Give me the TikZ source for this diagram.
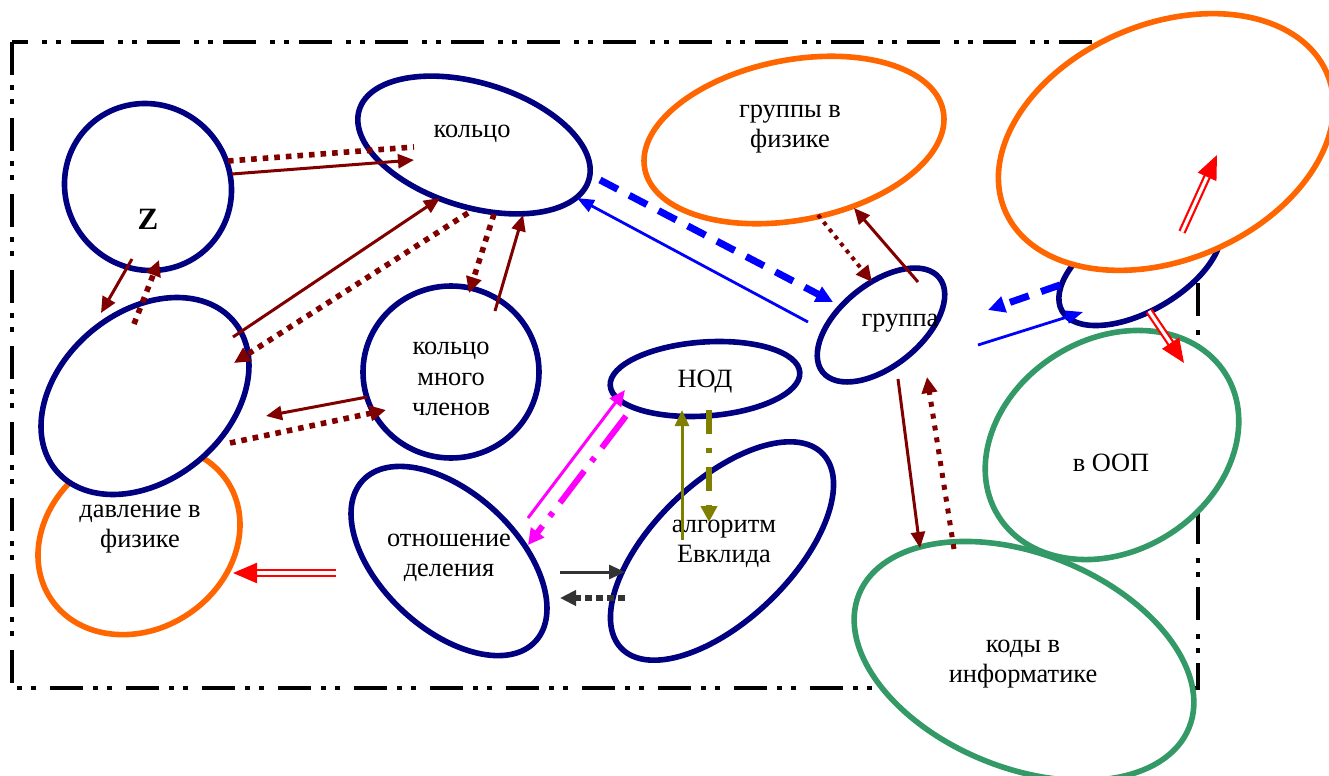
\documentclass[tikz,border=0pt]{standalone}
\usepackage{fontspec}
\setmainfont{Liberation Serif}
\usepackage{tikz}
\usetikzlibrary{shapes.geometric}
\usetikzlibrary{arrows.meta}
\definecolor{navyc}{HTML}{000080}
\definecolor{orangec}{HTML}{FF6600}
\definecolor{greenc}{HTML}{339966}
\definecolor{maroonc}{HTML}{800000}
\definecolor{bluec}{HTML}{0000FF}
\definecolor{redc}{HTML}{FF0000}
\definecolor{magentac}{HTML}{FF00FF}
\definecolor{olivec}{HTML}{808000}
\definecolor{grayc}{HTML}{333333}

\begin{document}
\begin{tikzpicture}[x=0.5pt,y=-0.5pt]

			\tikzstyle{ring} = [ellipse,draw=navyc,line width=2.8pt,fill=white,inner sep=0pt]
			\tikzstyle{physring} = [ring,draw=orangec]
			\tikzstyle{itring} = [ring,draw=greenc]
			\tikzstyle{txt} = [align=center,font=\fontsize{13.2pt}{15.2pt}\selectfont]
			\tikzstyle{frame} = [line width=1.8pt,dash pattern=on 16.5pt off 5pt on 2.5pt off 4.5pt on 2.5pt off 7pt]
			\tikzstyle{solidarr} = [line width=1.5pt,-{Triangle[length=8pt,width=7pt]}]
			\tikzstyle{dotarr} = [line width=2.8pt,dash pattern=on 2.8pt off 3pt,-{Triangle[length=8pt,width=7.5pt]}]
			\tikzstyle{dashblue} = [bluec,line width=3.5pt,dash pattern=on 10pt off 6.5pt,-{Triangle[length=8.5pt,width=8pt]}]
			\tikzstyle{solidblue} = [bluec,line width=1.4pt,-{Triangle[length=8.5pt,width=6.5pt]}]
			\tikzstyle{dblarr} = [draw=redc,double=white,line width=1.1pt,double distance=1.6pt,-{Triangle[length=12pt,width=10pt,fill=redc]}]
			\tikzstyle{dashdot} = [line width=3pt,dash pattern=on 12pt off 7pt on 2.5pt off 7pt,-{Triangle[length=8pt,width=8pt]}]

			\useasboundingbox (0,0) rectangle (1329,776);

			\draw[frame] (12,42) rectangle (1198,688);

			% circles
			\node[physring,minimum width=106pt,minimum height=89pt,rotate=34] (davl) at (139,540) {};
			\node[ring,minimum width=116pt,minimum height=84pt,rotate=40] (blank) at (145,396) {};
			\node[ring,minimum width=85pt,minimum height=82pt,rotate=-45] (z) at (148,187) {};
			\node[ring,minimum width=120pt,minimum height=62pt,rotate=-17] (kolco) at (474,145) {};
			\node[ring,minimum width=88pt,minimum height=86pt] (mnog) at (451,372) {};
			\node[ring,minimum width=95pt,minimum height=37pt,rotate=4] (nod) at (705,379) {};
			\node[ring,minimum width=118pt,minimum height=68pt,rotate=-43] (otn) at (449,561) {};
			\node[ring,minimum width=140pt,minimum height=69pt,rotate=44] (evkl) at (722,551) {};
			\node[ring,minimum width=75pt,minimum height=41pt,rotate=39] (gruppa) at (881,325) {};
			\node[physring,minimum width=152pt,minimum height=80pt,rotate=11] (grfiz) at (794,140) {};
			\node[ring,minimum width=90pt,minimum height=45pt,rotate=30] (small) at (1140,266) {};
			\node[physring,minimum width=175pt,minimum height=118pt,rotate=23] (ogr) at (1166,142) {};
			\node[itring,minimum width=134pt,minimum height=106pt,rotate=32] (oop) at (1112,445) {};
			\node[itring,minimum width=178pt,minimum height=107pt,rotate=-22] (kody) at (1024,661) {};

			% texts
			\node[font=\fontsize{15.5pt}{17pt}\selectfont\bfseries] (zt) at (148,219) {Z};
			\node[txt] (kolcot) at (472,134) {кольцо};
			\node[txt,fill=white,inner sep=1pt] (davlt) at (140,529) {давление в\\физике};
			\node[txt] (mnogt) at (451,379) {кольцо\\много\\членов};
			\node[txt] (nodt) at (705,382) {НОД};
			\node[txt] (otnt) at (449,558) {отношение\\деления};
			\node[txt] (evklt) at (724,544) {алгоритм\\Евклида};
			\node[txt] (gruppat) at (900,323) {группа};
			\node[txt] (grfizt) at (790,129) {группы в\\физике};
			\node[txt] (oopt) at (1111,463) {в ООП};
			\node[txt] (kodyt) at (1023,664) {коды в\\информатике};

			% arrow ends
			\coordinate (zk1) at (232,174);  \coordinate (zk2) at (414,160);
			\coordinate (kz1) at (228,161);  \coordinate (kz2) at (414,147);
			\coordinate (zb1) at (132,259);  \coordinate (zb2) at (101,313);
			\coordinate (bz1) at (134,324);  \coordinate (bz2) at (159,260);
			\coordinate (bk1) at (233,337);  \coordinate (bk2) at (440,198);
			\coordinate (kb1) at (468,213);  \coordinate (kb2) at (234,363);
			\coordinate (km1) at (494,214);  \coordinate (km2) at (469,293);
			\coordinate (mk1) at (495,311);  \coordinate (mk2) at (523,215);
			\coordinate (mb1) at (367,397);  \coordinate (mb2) at (266,416);
			\coordinate (bm1) at (230,443);  \coordinate (bm2) at (386,410);
			\coordinate (fg1) at (818,215);  \coordinate (fg2) at (872,282);
			\coordinate (gf1) at (918,282);  \coordinate (gf2) at (854,208);
			\coordinate (gk1) at (898,379);  \coordinate (gk2) at (920,548);
			\coordinate (kg1) at (954,549);  \coordinate (kg2) at (927,377);
			\coordinate (gr1) at (808,322);  \coordinate (gr2) at (577,198);
			\coordinate (rg1) at (600,180);  \coordinate (rg2) at (833,302);
			\coordinate (sg1) at (1060,285); \coordinate (sg2) at (988,310);
			\coordinate (gs1) at (978,345);  \coordinate (gs2) at (1083,312);
			\coordinate (in1) at (1182,232); \coordinate (in2) at (1217,155);
			\coordinate (so1) at (1149,311); \coordinate (so2) at (1184,363);
			\coordinate (od1) at (336,573);  \coordinate (od2) at (233,573);
			\coordinate (on1) at (528,518);  \coordinate (on2) at (625,390);
			\coordinate (no1) at (626,416);  \coordinate (no2) at (528,545);
			\coordinate (en1) at (682,540);  \coordinate (en2) at (682,410);
			\coordinate (ne1) at (709,410);  \coordinate (ne2) at (709,522);
			\coordinate (oe1) at (560,572);  \coordinate (oe2) at (625,572);
			\coordinate (eo1) at (625,598);  \coordinate (eo2) at (560,598);

			% arrows
			\draw[solidarr,maroonc] (zk1) -- (zk2);
			\draw[dotarr,maroonc,-] (kz1) -- (kz2);
			\draw[solidarr,maroonc] (zb1) -- (zb2);
			\draw[dotarr,maroonc] (bz1) -- (bz2);
			\draw[solidarr,maroonc] (bk1) -- (bk2);
			\draw[dotarr,maroonc] (kb1) -- (kb2);
			\draw[dotarr,maroonc] (km1) -- (km2);
			\draw[solidarr,maroonc] (mk1) -- (mk2);
			\draw[solidarr,maroonc] (mb1) -- (mb2);
			\draw[dotarr,maroonc] (bm1) -- (bm2);
			\draw[dotarr,maroonc,line width=2pt,dash pattern=on 2pt off 2.5pt] (fg1) -- (fg2);
			\draw[solidarr,maroonc] (gf1) -- (gf2);
			\draw[solidarr,maroonc] (gk1) -- (gk2);
			\draw[dotarr,maroonc,line width=2.5pt,dash pattern=on 2.5pt off 3.5pt] (kg1) -- (kg2);

			\draw[solidblue] (gr1) -- (gr2);
			\draw[dashblue] (rg1) -- (rg2);
			\draw[dashblue] (sg1) -- (sg2);
			\draw[solidblue] (gs1) -- (gs2);

			\draw[dblarr] (in1) -- (in2);
			\draw[dblarr] (so1) -- (so2);
			\draw[dblarr] (od1) -- (od2);

			\draw[solidarr,magentac] (on1) -- (on2);
			\draw[dashdot,magentac,dash pattern=on 20pt off 6pt on 2.5pt off 6pt] (no1) -- (no2);
			\draw[solidarr,olivec] (en1) -- (en2);
			\draw[dashdot,olivec] (ne1) -- (ne2);
			\draw[solidarr,grayc] (oe1) -- (oe2);
			\draw[dotarr,grayc,line width=3pt,dash pattern=on 3.5pt off 2pt] (eo1) -- (eo2);
		\end{tikzpicture}
\end{document}
